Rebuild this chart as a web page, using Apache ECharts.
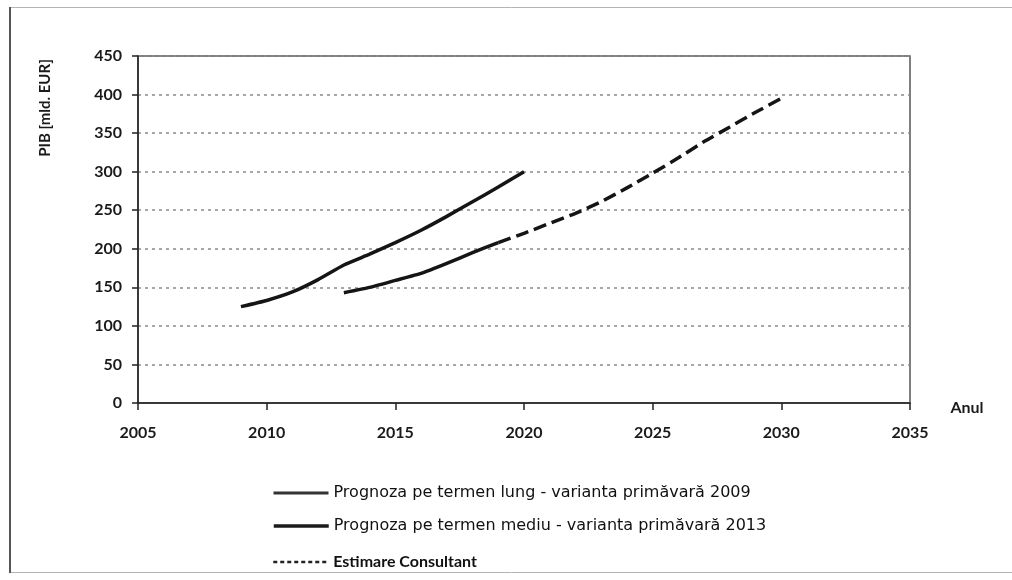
<!DOCTYPE html>
<html>
<head>
<meta charset="utf-8">
<script src="https://cdn.jsdelivr.net/npm/echarts@6/dist/echarts.min.js"></script>
<style>
  html, body { margin: 0; padding: 0; background: #fff; }
  #chart { width: 1012px; height: 580px; }
</style>
</head>
<body>
<div id="chart"></div>
<script>
// PIB (mld. EUR) by year
const yearsLung = [2009, 2010, 2011, 2012, 2013, 2014, 2015, 2016, 2017, 2018, 2019, 2020];
const pibLung = [125, 133, 144, 160, 179, 193, 208, 224, 242, 261, 280, 300];

const yearsMediu = [2013, 2014, 2015, 2016, 2017, 2018, 2019];
const pibMediu = [143, 150, 159, 168, 181, 195, 208];

const yearsConsultant = [2019, 2020, 2021, 2022, 2023, 2024, 2025, 2026, 2027, 2028, 2029, 2030];
const pibConsultant = [208, 220, 233, 246, 261, 279, 298, 318, 339, 358, 377, 395];

const seriesNames = [
  'Prognoza pe termen lung - varianta primăvară 2009',
  'Prognoza pe termen mediu - varianta primăvară 2013',
  'Estimare Consultant'
];
const yAxisTitle = 'PIB [mld. EUR]';
const xAxisTitle = 'Anul';

const pairs = (xs, ys) => xs.map((x, i) => [x, ys[i]]);

const tickFont = { fontFamily: 'Lato', fontWeight: 'bold', fontSize: 16, color: '#1a1a1a' };
const legendText = { fontFamily: 'DejaVu Sans', fontSize: 16, color: '#111' };

// one legend block per row so each entry sits on its own line
function legendRow(name, top, lineStyle, textStyle) {
  return {
    orient: 'horizontal', left: 267, top: top,
    itemWidth: 55, itemHeight: 14, itemGap: 0,
    selectedMode: false,
    itemStyle: { opacity: 0, borderWidth: 0 },
    lineStyle: lineStyle,
    textStyle: textStyle,
    data: [name]
  };
}

const chart = echarts.init(document.getElementById('chart'), null, { renderer: 'canvas' });
chart.setOption({
  animation: false,
  backgroundColor: '#ffffff',
  grid: {
    left: 138, right: 102, top: 56, bottom: 177,
    show: true, borderColor: '#555', borderWidth: 1.5, backgroundColor: 'transparent'
  },
  xAxis: {
    type: 'value', min: 2005, max: 2035, interval: 5,
    axisLine: { show: true, onZero: false, lineStyle: { color: '#222', width: 1.5 } },
    axisTick: { show: true, length: 7, lineStyle: { color: '#222', width: 1.5 } },
    axisLabel: Object.assign({ margin: 22, formatter: v => String(v) }, tickFont),
    splitLine: { show: false }
  },
  yAxis: {
    type: 'value', min: 0, max: 450, interval: 50,
    axisLine: { show: true, lineStyle: { color: '#222', width: 1.5 } },
    axisTick: { show: true, length: 6, lineStyle: { color: '#222', width: 1.5 } },
    axisLabel: Object.assign({ margin: 16 }, tickFont),
    splitLine: { show: true, lineStyle: { color: '#8a8a8a', width: 1.5, type: [3, 4] } }
  },
  legend: [
    legendRow(seriesNames[0], 480, { color: '#333', width: 3, type: 'solid' }, legendText),
    legendRow(seriesNames[1], 513, { color: '#1a1a1a', width: 3.5, type: 'solid' }, legendText),
    legendRow(seriesNames[2], 549, { color: '#222', width: 2.5, type: [4, 3] },
      { fontFamily: 'Lato', fontSize: 16, fontWeight: 'bold', color: '#111' })
  ],
  graphic: [
    { type: 'rect', silent: true, shape: { x: 9.5, y: 7.5, width: 1010, height: 565 },
      style: { fill: 'none', stroke: '#b5b5b5', lineWidth: 1 } },
    { type: 'line', silent: true, shape: { x1: 10, y1: 7, x2: 10, y2: 573 },
      style: { stroke: '#555', lineWidth: 2 } },
    { type: 'text', silent: true, x: 45, y: 108, rotation: Math.PI / 2,
      style: { text: yAxisTitle, fontFamily: 'Lato', fontWeight: 'bold', fontSize: 15,
               fill: '#1a1a1a', align: 'center', verticalAlign: 'middle' } },
    { type: 'text', silent: true, x: 967, y: 408,
      style: { text: xAxisTitle, fontFamily: 'Lato', fontWeight: 'bold', fontSize: 16,
               fill: '#1a1a1a', align: 'center', verticalAlign: 'middle' } }
  ],
  series: [
    {
      name: seriesNames[0], type: 'line', symbol: 'none', smooth: 0.15,
      data: pairs(yearsLung, pibLung),
      lineStyle: { color: '#151515', width: 3.5 },
      itemStyle: { color: '#333' }
    },
    {
      name: seriesNames[1], type: 'line', symbol: 'none', smooth: 0.15,
      data: pairs(yearsMediu, pibMediu),
      lineStyle: { color: '#151515', width: 3.5 },
      itemStyle: { color: '#222' }
    },
    {
      name: seriesNames[2], type: 'line', symbol: 'none', smooth: 0.15,
      data: pairs(yearsConsultant, pibConsultant),
      lineStyle: { color: '#151515', width: 3.5, type: [13, 6] },
      itemStyle: { color: '#222' }
    }
  ]
});
</script>
</body>
</html>
